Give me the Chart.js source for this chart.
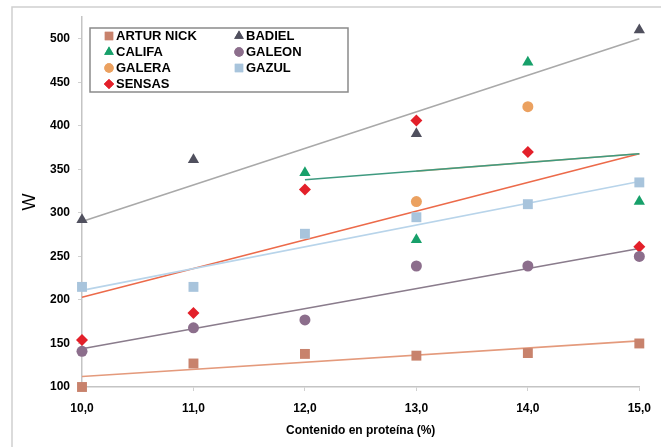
<!DOCTYPE html>
<html>
<head>
<meta charset="utf-8">
<script src="https://cdn.jsdelivr.net/npm/chart.js@4/dist/chart.umd.min.js"></script>
<style>
  html, body { margin: 0; padding: 0; background: #ffffff; }
  #wrap { width: 661px; height: 447px; position: relative; }
</style>
</head>
<body>
<div id="wrap"><canvas id="c" width="661" height="447"></canvas></div>
<script>
// ---- data ----
const proteinLevels = [10, 11, 12, 13, 14, 15];
const seriesNames = ['ARTUR NICK', 'BADIEL', 'CALIFA', 'GALEON', 'GALERA', 'GAZUL', 'SENSAS'];
const arturNick = [100, 127, 138, 136, 139, 150];
const badiel    = [292, 361, null, 391, null, 510];
const califa    = [null, null, 346, 269, 473, 313];
const galeon    = [141, 168, 177, 239, 239, 250];
const galera    = [null, null, null, 313, 422, null];
const gazul     = [215, 215, 276, 295, 310, 335];
const sensas    = [154, 185, 327, 406, 370, 261];

// trend line end points (x span and y values)
const trendArturNickX = [10, 15]; const trendArturNickY = [112, 153];
const trendBadielX    = [10, 15]; const trendBadielY    = [290, 500];
const trendCalifaX    = [12, 15]; const trendCalifaY    = [338, 368];
const trendGaleraX    = [13, 15]; const trendGaleraY    = [348, 368];
const trendGaleonX    = [10, 15]; const trendGaleonY    = [144, 259];
const trendGazulX     = [10, 15]; const trendGazulY     = [211, 336];
const trendSensasX    = [10, 15]; const trendSensasY    = [203, 368];

const yTickValues = [100, 150, 200, 250, 300, 350, 400, 450, 500];
const xTickValues = [10, 11, 12, 13, 14, 15];

// ---- styling ----
const markerStyles = [
  { color: '#c8826c', shape: 'rect',     r: 7 },
  { color: '#50505e', shape: 'triangle', r: 6.5 },
  { color: '#17a06a', shape: 'triangle', r: 6.5 },
  { color: '#8c6e8c', shape: 'circle',   r: 5.5 },
  { color: '#eba160', shape: 'circle',   r: 5.5 },
  { color: '#a8c4dc', shape: 'rect',     r: 7 },
  { color: '#e3202a', shape: 'rectRot',  r: 6 }
];
const trendColors = ['#e49a7c', '#a9a9a9', '#3f9a80', '#d8b080', '#8a7c8c', '#b8d4ea', '#ec6a4a'];

const seriesValues = [arturNick, badiel, califa, galeon, galera, gazul, sensas];
const trends = [
  [trendArturNickX, trendArturNickY],
  [trendBadielX, trendBadielY],
  [trendCalifaX, trendCalifaY],
  [trendGaleraX, trendGaleraY],
  [trendGaleonX, trendGaleonY],
  [trendGazulX, trendGazulY],
  [trendSensasX, trendSensasY]
];

const datasets = [];
trends.forEach((t, i) => {
  datasets.push({
    type: 'line',
    label: 'trend' + i,
    data: t[0].map((x, k) => ({ x: x, y: t[1][k] })),
    borderColor: trendColors[i],
    borderWidth: 1.6,
    pointRadius: 0,
    fill: false,
    clip: false,
    order: 2
  });
});
seriesValues.forEach((vals, i) => {
  datasets.push({
    type: 'scatter',
    label: seriesNames[i],
    isMarker: true,
    data: proteinLevels.map((x, k) => ({ x: x, y: vals[k] })).filter(p => p.y !== null),
    backgroundColor: markerStyles[i].color,
    borderColor: markerStyles[i].color,
    borderWidth: 0,
    pointStyle: markerStyles[i].shape,
    pointRadius: markerStyles[i].r,
    clip: false,
    order: 1
  });
});

const FONT = "'Liberation Sans', Arial, sans-serif";

const frameAndLegend = {
  id: 'frameAndLegend',
  beforeDraw(chart) {
    const ctx = chart.ctx;
    ctx.save();
    ctx.fillStyle = '#ffffff';
    ctx.fillRect(0, 0, chart.width, chart.height);
    ctx.strokeStyle = '#cfcfcf';
    ctx.lineWidth = 1.5;
    ctx.strokeRect(12, 7, chart.width + 10, chart.height + 10);
    ctx.restore();
  },
  afterDraw(chart) {
    const ctx = chart.ctx;
    ctx.save();
    // legend box
    ctx.fillStyle = '#ffffff';
    ctx.fillRect(90, 28, 258, 64);
    ctx.strokeStyle = '#8a8a8a';
    ctx.lineWidth = 1.5;
    ctx.strokeRect(90, 28, 258, 64);
    const markers = chart.data.datasets.filter(d => d.isMarker);
    const colX = [109, 239];
    const rowY = [36, 52, 68, 84];
    ctx.font = 'bold 13px ' + FONT;
    ctx.textBaseline = 'middle';
    markers.forEach((d, i) => {
      const col = i % 2, row = Math.floor(i / 2);
      const x = colX[col], y = rowY[row];
      ctx.fillStyle = d.backgroundColor;
      Chart.helpers.drawPoint(ctx, { pointStyle: d.pointStyle, radius: d.pointRadius * 0.85, rotation: 0, borderWidth: 0 }, x, y);
      ctx.fill();
      ctx.fillStyle = '#000000';
      ctx.fillText(d.label, x + 7, y + 0.5);
    });
    ctx.restore();
  }
};

new Chart(document.getElementById('c'), {
  data: { datasets: datasets },
  options: {
    responsive: false,
    animation: false,
    events: [],
    layout: { padding: { left: 12, top: 17, right: 18, bottom: 0 } },
    plugins: { legend: { display: false }, tooltip: { enabled: false } },
    scales: {
      x: {
        type: 'linear',
        min: 10, max: 15,
        afterBuildTicks(scale) { scale.ticks = xTickValues.map(v => ({ value: v })); },
        afterFit(scale) { scale.height = 60; },
        border: { display: true, color: '#c4c4c4', width: 1.5 },
        grid: { drawOnChartArea: false, drawTicks: true, tickLength: 4, color: '#d0d0d0' },
        ticks: {
          padding: 10,
          color: '#000000',
          font: { family: FONT, size: 12, weight: 'bold' },
          callback: v => v.toFixed(1).replace('.', ',')
        },
        title: {
          display: true,
          text: 'Contenido en proteína (%)',
          color: '#000000',
          font: { family: FONT, size: 12, weight: 'bold' },
          padding: { top: 0, bottom: 9 }
        }
      },
      y: {
        type: 'linear',
        min: 100, max: 525,
        afterBuildTicks(scale) { scale.ticks = yTickValues.map(v => ({ value: v })); },
        afterFit(scale) { scale.width = 70; },
        border: { display: true, color: '#c4c4c4', width: 1.5 },
        grid: { drawOnChartArea: false, drawTicks: true, tickLength: 4, color: '#d0d0d0' },
        ticks: {
          padding: 8,
          color: '#000000',
          font: { family: FONT, size: 12, weight: 'bold' },
          callback: v => String(v)
        },
        title: {
          display: true,
          text: 'W',
          color: '#000000',
          font: { family: FONT, size: 18, weight: 'normal' },
          padding: { top: 7, bottom: 0 }
        }
      }
    }
  },
  plugins: [frameAndLegend]
});
</script>
</body>
</html>
